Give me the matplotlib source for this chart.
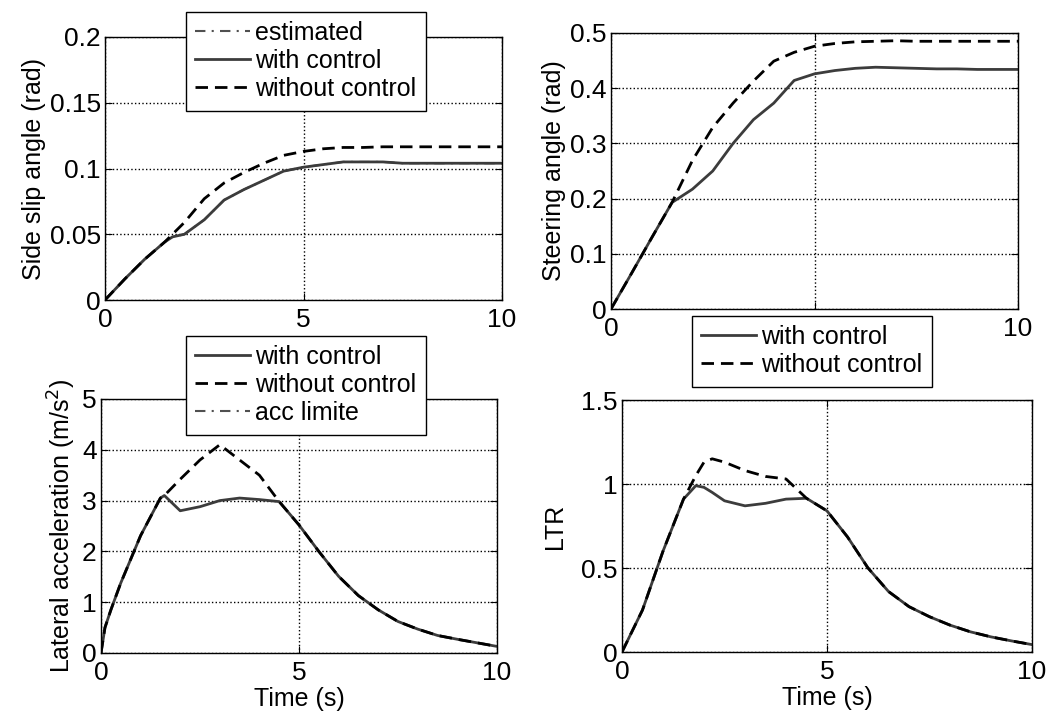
import matplotlib
matplotlib.use("Agg")
import matplotlib.pyplot as plt

plt.rcParams['font.family'] = ['Liberation Sans', 'DejaVu Sans']
plt.rcParams['font.size'] = 18

# side slip angle (rad)
t_beta = [0, 0.5, 1.0, 1.5, 1.7, 2.0, 2.5, 3.0, 3.5, 4.0, 4.5, 5.0, 5.5, 6.0, 6.5, 7.0, 7.5, 8.0, 8.5, 9.0,
          9.5, 10]
beta_est = [0, 0.016, 0.031, 0.044, 0.048, 0.050, 0.061, 0.076, 0.084, 0.091, 0.098, 0.101, 0.103, 0.105,
            0.105, 0.105, 0.104, 0.104, 0.104, 0.104, 0.104, 0.104]
beta_ctrl = [0, 0.016, 0.031, 0.044, 0.048, 0.050, 0.061, 0.076, 0.084, 0.091, 0.098, 0.101, 0.103, 0.105,
             0.105, 0.105, 0.104, 0.104, 0.104, 0.104, 0.104, 0.104]
beta_noctrl = [0, 0.016, 0.031, 0.044, 0.050, 0.059, 0.077, 0.089, 0.097, 0.104, 0.110, 0.113, 0.115, 0.116,
               0.116, 0.1165, 0.1165, 0.1165, 0.1165, 0.1165, 0.1165, 0.1165]

# steering angle (rad)
t_delta = [0, 0.5, 1.0, 1.5, 2.0, 2.5, 3.0, 3.5, 4.0, 4.5, 5.0, 5.5, 6.0, 6.5, 7.0, 7.5, 8.0, 8.5, 9.0, 9.5, 10]
delta_ctrl = [0, 0.064, 0.129, 0.193, 0.217, 0.25, 0.30, 0.343, 0.373, 0.414, 0.426, 0.432, 0.436, 0.438,
              0.437, 0.436, 0.435, 0.435, 0.434, 0.434, 0.434]
delta_noctrl = [0, 0.064, 0.129, 0.193, 0.269, 0.329, 0.373, 0.413, 0.449, 0.465, 0.476, 0.481, 0.484, 0.485,
                0.486, 0.485, 0.485, 0.485, 0.485, 0.485, 0.485]

# lateral acceleration (m/s^2)
t_acc = [0, 0.1, 0.25, 0.5, 1.0, 1.5, 1.6, 2.0, 2.5, 3.0, 3.5, 4.0, 4.5, 5.0, 5.5, 6.0, 6.5, 7.0, 7.5,
         8.0, 8.5, 9.0, 9.5, 10]
acc_ctrl = [0, 0.5, 0.85, 1.38, 2.31, 3.05, 3.1, 2.8, 2.88, 3.0, 3.05, 3.02, 2.98, 2.52, 2.0, 1.51, 1.13,
            0.85, 0.62, 0.47, 0.345, 0.27, 0.2, 0.13]
acc_noctrl = [0, 0.5, 0.85, 1.38, 2.31, 3.05, 3.1, 3.42, 3.8, 4.1, 3.8, 3.5, 2.98, 2.52, 2.0, 1.51, 1.13,
              0.85, 0.62, 0.47, 0.345, 0.27, 0.2, 0.13]
t_lim = []
acc_lim = []

# load transfer ratio
t_ltr = [0, 0.5, 1.0, 1.5, 1.8, 2.0, 2.2, 2.5, 3.0, 3.5, 4.0, 4.5, 5.0, 5.5, 6.0, 6.5, 7.0, 7.5, 8.0,
         8.5, 9.0, 9.5, 10]
ltr_ctrl = [0, 0.25, 0.60, 0.91, 0.99, 0.98, 0.95, 0.90, 0.87, 0.885, 0.91, 0.915, 0.84, 0.685, 0.50,
            0.36, 0.27, 0.21, 0.16, 0.12, 0.09, 0.066, 0.044]
ltr_noctrl = [0, 0.25, 0.60, 0.91, 1.05, 1.13, 1.15, 1.13, 1.08, 1.045, 1.03, 0.915, 0.84, 0.685, 0.50,
              0.36, 0.27, 0.21, 0.16, 0.12, 0.09, 0.066, 0.044]

W, H = 1056, 717
fig = plt.figure(figsize=(W / 100, H / 100), dpi=100)


def make_axes(x0, y0, x1, y1):
    # pixel box -> figure fraction
    return fig.add_axes([x0 / W, 1 - y1 / H, (x1 - x0) / W, (y1 - y0) / H])


def style(ax, ylim, yticks):
    ax.set_xlim(0, 10)
    ax.set_ylim(*ylim)
    ax.set_xticks([0, 5, 10])
    ax.set_yticks(yticks)
    ax.grid(True, linestyle=':', color='k', linewidth=1)
    ax.tick_params(direction='in', length=5, top=True, right=True, pad=3, labelsize=19)
    ax.tick_params(axis='x', pad=6)
    for s in ax.spines.values():
        s.set_linewidth(1)


def legend(ax, cx, cy):
    lg = ax.legend(loc='center', bbox_to_anchor=(cx / W, 1 - cy / H), bbox_transform=fig.transFigure,
                   fancybox=False, framealpha=1, edgecolor='k', handlelength=2.2, handletextpad=0.2,
                   labelspacing=0.16, borderpad=0.38, borderaxespad=0, fontsize=18)
    lg.get_frame().set_linewidth(1)


ctrl_kw = dict(color='#3c3c3c', lw=2, ls='-')
noctrl_kw = dict(color='k', lw=2, ls=(0, (4.5, 2.5)))
dd_kw = dict(color='#505050', lw=1.5, ls=(0, (5, 3, 1, 3)))

ax1 = make_axes(105, 37, 502, 300)
ax1.plot(t_beta, beta_est, label='estimated', **dd_kw)
ax1.plot(t_beta, beta_ctrl, label='with control', **ctrl_kw)
ax1.plot(t_beta, beta_noctrl, label='without control', **noctrl_kw)
style(ax1, (0, 0.2), [0, 0.05, 0.1, 0.15, 0.2])
ax1.set_yticklabels(['0', '0.05', '0.1', '0.15', '0.2'])
ax1.set_ylabel('Side slip angle (rad)', labelpad=3)
legend(ax1, 306, 61)

ax2 = make_axes(611, 33, 1018, 309)
ax2.plot(t_delta, delta_ctrl, label='with control', **ctrl_kw)
ax2.plot(t_delta, delta_noctrl, label='without control', **noctrl_kw)
style(ax2, (0, 0.5), [0, 0.1, 0.2, 0.3, 0.4, 0.5])
ax2.set_yticklabels(['0', '0.1', '0.2', '0.3', '0.4', '0.5'])
ax2.set_xticklabels(['0', '', '10'])  # the "5" sits under the legend box
ax2.set_ylabel('Steering angle (rad)', labelpad=3)
legend(ax2, 812, 351)

ax3 = make_axes(101, 399, 497, 653)
ax3.plot(t_acc, acc_ctrl, label='with control', **ctrl_kw)
ax3.plot(t_acc, acc_noctrl, label='without control', **noctrl_kw)
ax3.plot(t_lim, acc_lim, label='acc limite', **dd_kw)
style(ax3, (0, 5), [0, 1, 2, 3, 4, 5])
ax3.set_ylabel('Lateral acceleration (m/s$^2$)', labelpad=3)
ax3.set_xlabel('Time (s)', labelpad=1)
legend(ax3, 306, 385)

ax4 = make_axes(622, 400, 1032, 652)
ax4.plot(t_ltr, ltr_ctrl, **ctrl_kw)
ax4.plot(t_ltr, ltr_noctrl, **noctrl_kw)
style(ax4, (0, 1.5), [0, 0.5, 1, 1.5])
ax4.set_yticklabels(['0', '0.5', '1', '1.5'])
ax4.set_ylabel('LTR', labelpad=10)
ax4.set_xlabel('Time (s)', labelpad=1)

fig.savefig('out.png', dpi=100, facecolor='white')
